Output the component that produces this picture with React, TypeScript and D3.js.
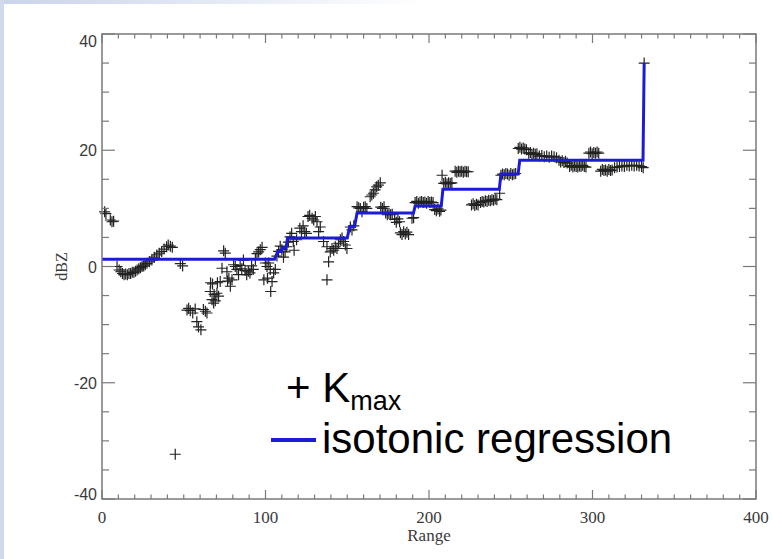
import React, { useEffect } from "react";
import * as d3 from "d3";

const W = 773;
const H = 559;

// K_max observations: [range, dBZ]
const kmaxPoints: [number, number][] = [
  [1.6, 9.4], [2.4, 9.1], [5.1, 8.0], [6.1, 7.7], [7.1, 7.8],
  [9.2, 0.0], [10.5, -0.6], [11.5, -0.9], [12.5, -1.2], [13.5, -1.4], [14.5, -1.3], [15.5, -1.4], [16.5, -1.2],
  [17.5, -1.2], [18.5, -1.0], [19.5, -1.0], [20.5, -0.8], [21.5, -0.6], [22.5, -0.4], [23.5, -0.2], [24.5, 0.0],
  [25.5, 0.1], [26.5, 0.3], [27.5, 0.55], [29, 0.8], [30.5, 1.1], [32, 1.6], [33.5, 2.0], [35, 2.3], [36.5, 2.6],
  [38, 3.0], [39.5, 3.4], [40.5, 3.7], [41.8, 3.5], [43, 3.3],
  [44.8, -32.3], [47.9, 0.5], [49.3, 0.1],
  [52, -7.5], [53, -7.2], [54, -7.6], [55.5, -8.0], [57, -7.3], [58, -9.5], [59, -10.4], [60.5, -10.9],
  [62, -7.4], [63.2, -7.7], [64.2, -8.0],
  [66.2, -4.3], [66.4, -2.8], [67.3, -5.7], [67.6, -3.0], [68.3, -6.3], [68.6, -4.8], [69.3, -5.9], [70.3, -4.6],
  [70.6, -2.8], [71.3, -5.1], [72.3, -2.6], [73.4, -0.3], [74.4, 2.7], [75.4, 2.3], [76.4, -0.9], [76.8, -2.5],
  [77.6, -2.0], [78.5, -3.4], [79.5, -2.3],
  [80.5, 0.3], [81.5, 0.0], [82.5, -0.5], [83.5, -1.4], [84.5, 0.2], [85.5, -0.4], [86.5, 1.1], [87.5, -0.7],
  [88.5, -1.4], [89.5, -0.8], [90.5, -1.1], [91.5, 0.1], [92.5, -0.5], [93.8, 1.2], [94.8, 2.2], [95.8, 2.5],
  [96.8, 2.9], [97.9, 3.3],
  [99, -2.3], [99.9, 0.6], [100.9, 0.0], [101.2, -2.0], [102, 0.6], [102.9, -0.5], [103.2, -4.3], [104, -2.6],
  [105, -1.1], [106, -0.5],
  [107, 1.8], [108, 2.6], [109, 3.5], [110, 2.9], [111, 1.6], [112, 2.5], [113, 3.4], [114, 4.2], [115, 5.1],
  [116, 5.7], [117, 4.3], [117.5, 2.8], [119, 4.6],
  [121, 6.6], [122, 6.0], [123, 7.0], [124, 6.0], [125, 5.7], [126, 8.6], [127, 8.8], [128.5, 8.3], [129.5, 8.0],
  [130.5, 8.6], [131.5, 7.7], [132.5, 6.0], [133.5, 6.8], [135.5, 4.3], [137.6, 3.4], [137.6, -2.3], [138.6, 0.8],
  [139.6, 2.5], [140.7, 3.1], [141.7, 2.8], [142.7, 3.4], [143.7, 3.1], [144.7, 4.0], [145.8, 4.6], [146.8, 4.9],
  [147.8, 4.3], [148.8, 3.7], [149.8, 3.1],
  [151.9, 6.8], [152.9, 6.3], [154, 7.0], [156, 10.3], [157, 10.1], [158, 10.0], [159, 9.4], [160, 10.2],
  [161, 10.3], [162, 10.0], [164, 12.0], [165, 12.3], [166, 12.6], [167, 13.2], [168, 13.7], [169, 14.0], [170.2, 14.4],
  [170.5, 10.2], [171.5, 10.0], [172.5, 10.3], [173.5, 9.2], [174.5, 8.9], [175.5, 9.1], [176.5, 8.9], [177.5, 9.0],
  [179, 8.1], [180, 7.6], [181, 8.2], [182, 7.7], [182.5, 5.8], [183.5, 5.5], [184.5, 6.0], [185.5, 5.6],
  [186.5, 5.9], [187.5, 5.5], [189.6, 8.3], [190.6, 8.4],
  [191.5, 11.0], [192.5, 11.2], [193.5, 10.9], [194.5, 11.1], [195.5, 11.2], [196.5, 11.0], [197.5, 11.1],
  [198.5, 10.9], [199.5, 11.2], [200.5, 11.0], [201.5, 11.1], [202.5, 11.0], [203.5, 9.8], [204.5, 9.6],
  [205.5, 9.9], [206.5, 9.5], [207.3, 9.7],
  [208, 15.7], [209, 14.3], [210, 14.5], [211, 14.2], [212, 14.4], [213, 14.3], [214, 14.4], [216, 16.4],
  [217, 16.2], [218, 16.4], [219, 16.3], [220, 16.4], [221, 16.2], [222, 16.4], [223, 16.3], [224, 16.3],
  [226, 10.6], [227, 10.8], [228, 10.5], [229, 10.7], [230, 10.6], [231.5, 11.0], [232.5, 11.2], [233.5, 11.1],
  [234.5, 11.3], [235.5, 11.2], [236.5, 11.4], [237.5, 11.3], [238.5, 11.5], [239.5, 11.4], [240.5, 11.6],
  [241.5, 11.5], [243.2, 12.6],
  [244, 15.7], [245, 15.9], [246, 15.8], [247, 16.0], [248, 15.9], [249, 15.7], [250, 16.0], [251, 15.8],
  [252, 15.9], [253, 16.0], [254.6, 20.3], [255.6, 20.5], [256.6, 20.2], [257.6, 20.4], [258.6, 20.2], [259.6, 20.1],
  [261, 19.5], [262, 19.6], [263, 19.3], [264, 19.5], [265, 19.3], [266, 19.4], [267.5, 19.0], [269, 19.1],
  [270.5, 18.9], [272, 19.0], [273.5, 18.8], [275, 19.0], [276.5, 18.9], [278, 18.7], [279.5, 18.3], [280.5, 18.0],
  [281.5, 18.2], [282.5, 17.9], [283.5, 18.1], [284.5, 17.8],
  [286, 17.2], [287, 17.4], [288, 17.1], [289, 17.3], [290, 17.2], [291, 17.1], [292, 17.3], [293, 17.2],
  [294, 17.4], [295, 17.2], [296, 17.1], [297.8, 19.5], [298.8, 19.7], [299.8, 19.4], [300.8, 19.6], [301.8, 19.5],
  [302.8, 19.7], [303.8, 19.5],
  [305, 16.4], [306, 16.7], [307, 16.5], [308, 16.6], [309, 16.4], [310, 16.7], [311, 16.5], [312, 16.6],
  [313.5, 17.0], [315, 17.1], [316.5, 17.2], [318, 17.3], [319.5, 17.2], [321, 17.4], [322.5, 17.3], [324, 17.4],
  [325.5, 17.3], [327, 17.4], [328.5, 17.3], [330, 17.2], [331, 17.0], [331.6, 35.0],
];

// isotonic regression fit
const isoRange = [0, 105.5, 107.5, 109.5, 110.5, 112.5, 113.5, 150, 151.5, 154.5, 156, 190.5, 191.5, 207.5, 208.5, 243, 244, 254.5, 255.5, 330.9, 331.6];
const isoDbz = [1.25, 1.25, 2.6, 2.6, 3.2, 3.2, 4.9, 4.9, 6.9, 6.9, 9.2, 9.2, 10.4, 10.4, 13.3, 13.3, 15.9, 15.9, 18.3, 18.3, 35.0];

const xMajorTicks = [0, 100, 200, 300, 400];
const yMajorTicks = [-40, -20, 0, 20, 40];
const xMinorStep = 10;
const yMinorStep = 5;

export default function App() {
  useEffect(() => {
    document.body.style.margin = "0";
    document.body.style.overflow = "hidden";
    document.documentElement.style.overflow = "hidden";
    document.documentElement.style.background = "#fff";
  }, []);

  const left = 102, right = 756, top = 34, bottom = 499;
  const x = d3.scaleLinear().domain([0, 400]).range([left, right]);
  const y = d3.scaleLinear().domain([-40, 40]).range([bottom, top]);

  const xMinor = d3.range(0, 400 + 0.001, xMinorStep).filter((v) => !xMajorTicks.includes(v));
  const yMinor = d3.range(-40, 40 + 0.001, yMinorStep).filter((v) => !yMajorTicks.includes(v));

  const isoLine = d3
    .line<number>()
    .x((_, i) => x(isoRange[i]))
    .y((d) => y(d))(isoDbz) as string;

  const axisColor = "#7a7a7a";
  const labelColor = "#3a3a3a";
  const plus = "M-5.5,0H5.5M0,-5.5V5.5";

  return (
    <svg
      width={W}
      height={H}
      viewBox={`0 0 ${W} ${H}`}
      style={{ position: "fixed", left: 0, top: 0, background: "#fff", display: "block" }}
    >
      <defs>
        <linearGradient id="topband" x1="0" x2="1" y1="0" y2="0">
          <stop offset="0" stopColor="#c9d3ea" />
          <stop offset="0.55" stopColor="#ffffff" />
        </linearGradient>
      </defs>
      <rect x={0} y={0} width={W} height={H} fill="#fff" />
      <rect x={0} y={0} width={W} height={4} fill="url(#topband)" />
      <rect x={0} y={0} width={4} height={H} fill="#d1daec" />

      {/* markers */}
      <g stroke="#222" strokeWidth={1.2} fill="none">
        {kmaxPoints.map(([r, v], i) => (
          <path key={i} d={plus} transform={`translate(${x(r)},${y(v)})`} />
        ))}
      </g>

      {/* isotonic regression */}
      <path d={isoLine} fill="none" stroke="#1c1cd6" strokeWidth={3} strokeLinejoin="miter" />

      {/* frame */}
      <rect x={left} y={top} width={right - left} height={bottom - top} fill="none" stroke={axisColor} strokeWidth={1.5} />

      {/* ticks */}
      <g stroke={axisColor} strokeWidth={1.2}>
        {xMajorTicks.map((t) => (
          <g key={"xM" + t}>
            <line x1={x(t)} x2={x(t)} y1={bottom} y2={bottom - 9} />
            <line x1={x(t)} x2={x(t)} y1={top} y2={top + 9} />
          </g>
        ))}
        {xMinor.map((t) => (
          <g key={"xm" + t}>
            <line x1={x(t)} x2={x(t)} y1={bottom} y2={bottom - 4.5} />
            <line x1={x(t)} x2={x(t)} y1={top} y2={top + 4.5} />
          </g>
        ))}
        {yMajorTicks.map((t) => (
          <g key={"yM" + t}>
            <line x1={left} x2={left + 13} y1={y(t)} y2={y(t)} />
            <line x1={right} x2={right - 13} y1={y(t)} y2={y(t)} />
          </g>
        ))}
        {yMinor.map((t) => (
          <g key={"ym" + t}>
            <line x1={left} x2={left + 7} y1={y(t)} y2={y(t)} />
            <line x1={right} x2={right - 7} y1={y(t)} y2={y(t)} />
          </g>
        ))}
      </g>

      {/* tick labels */}
      <g fill={labelColor} fontFamily="'Liberation Sans', Arial, sans-serif" fontSize={16} textAnchor="end">
        {yMajorTicks.map((t) => (
          <text key={"yl" + t} x={97} y={Math.min(Math.max(y(t) + 6, 47), 500)}>
            {t}
          </text>
        ))}
      </g>
      <g fill={labelColor} fontFamily="'Liberation Serif', 'Times New Roman', serif" fontSize={17} textAnchor="middle">
        {xMajorTicks.map((t) => (
          <text key={"xl" + t} x={x(t)} y={523}>
            {t}
          </text>
        ))}
        <text x={(left + right) / 2} y={541}>Range</text>
      </g>
      <text
        transform={`translate(67,${y(0)}) rotate(-90)`}
        textAnchor="middle"
        fontFamily="'Liberation Serif', 'Times New Roman', serif"
        fontSize={16}
        fill={labelColor}
      >
        dBZ
      </text>

      {/* legend */}
      <g fontFamily="'Liberation Sans', Arial, sans-serif" fill="#000">
        <text x={286} y={402} fontSize={42}>
          + K<tspan fontSize={27} dy={8}>max</tspan>
        </text>
        <line x1={271} x2={316} y1={440} y2={440} stroke="#1c1cd6" strokeWidth={4} />
        <text x={322} y={453} fontSize={42}>isotonic regression</text>
      </g>
    </svg>
  );
}
